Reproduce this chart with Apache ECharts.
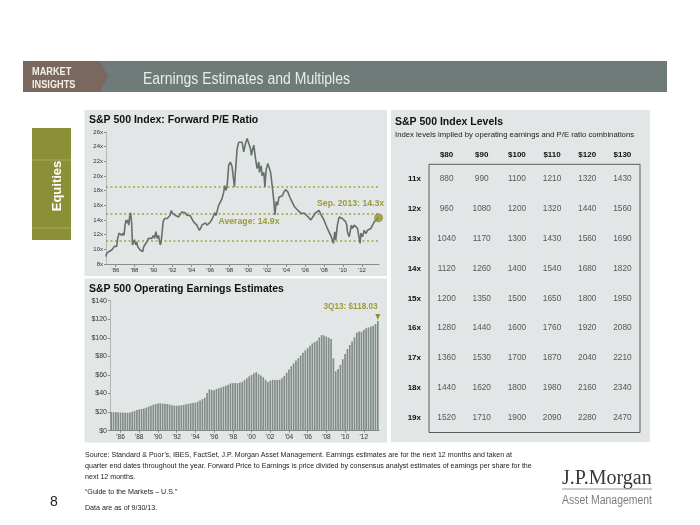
<!DOCTYPE html>
<html><head><meta charset="utf-8">
<script src="https://cdn.jsdelivr.net/npm/echarts@6/dist/echarts.min.js"></script>
<style>html,body{margin:0;padding:0;background:#fff;}#c{width:700px;height:525px;}</style>
</head><body><div id="c"></div>
<script>
// ---- Forward P/E (decimal year, value) ----
const peYears = [1985.00,1985.07,1985.18,1985.32,1985.43,1985.60,1985.78,1985.88,1986.02,1986.13,1986.23,1986.38,1986.52,1986.66,1986.76,1986.90,
1987.01,1987.12,1987.22,1987.29,1987.40,1987.50,1987.60,1987.71,1987.79,1987.89,1988.00,1988.13,1988.24,1988.35,1988.49,1988.60,1988.77,1988.88,1988.98,
1989.13,1989.30,1989.48,1989.66,1989.83,1990.01,1990.12,1990.26,1990.40,1990.54,1990.72,1990.82,1990.92,1991.03,1991.17,1991.32,1991.45,1991.60,1991.77,1991.88,
1992.02,1992.16,1992.30,1992.47,1992.65,1992.82,1993.00,1993.17,1993.36,1993.53,1993.71,1993.88,1993.99,1994.24,1994.40,1994.59,1994.84,1995.00,1995.12,1995.30,
1995.48,1995.65,1995.83,1996.00,1996.18,1996.32,1996.46,1996.60,1996.71,1996.88,1997.06,1997.24,1997.42,1997.52,1997.66,1997.77,1997.86,1997.95,1998.12,1998.30,
1998.44,1998.55,1998.65,1998.83,1999.00,1999.18,1999.36,1999.53,1999.71,1999.89,2000.06,2000.24,2000.34,2000.41,2000.59,2000.77,2000.94,2001.12,2001.19,2001.37,
2001.47,2001.65,2001.76,2001.90,2002.07,2002.25,2002.36,2002.53,2002.71,2002.82,2002.96,2003.10,2003.24,2003.42,2003.59,2003.77,2003.94,2004.05,2004.19,2004.40,
2004.54,2004.75,2004.89,2005.10,2005.25,2005.46,2005.60,2005.81,2005.95,2006.16,2006.41,2006.59,2006.76,2006.94,2007.12,2007.29,2007.47,2007.64,2007.82,2007.99,
2008.17,2008.35,2008.52,2008.70,2008.88,2008.99,2009.13,2009.24,2009.41,2009.59,2009.77,2009.94,2010.12,2010.29,2010.40,2010.47,2010.65,2010.75,2010.89,2011.00,
2011.18,2011.35,2011.53,2011.71,2011.81,2011.88,2012.06,2012.24,2012.41,2012.59,2012.77,2012.94,2013.12,2013.30,2013.47,2013.65,2013.75];
const peValues = [9.0,9.45,9.2,9.7,9.5,9.9,9.7,10.4,10.6,10.4,11.5,12.2,12.4,11.9,12.2,11.9,
13.3,14.0,13.6,14.0,13.3,14.45,15.0,13.5,10.6,10.85,11.3,10.6,11.0,10.35,10.2,9.9,10.1,9.7,10.35,
10.6,11.0,11.5,11.7,11.5,11.9,11.5,12.4,11.5,11.9,10.6,11.0,11.2,13.75,14.2,14.0,14.2,14.1,14.65,15.3,
14.9,14.75,14.65,14.9,14.4,14.65,15.1,14.9,15.0,14.65,14.9,14.6,14.75,13.75,13.6,13.3,12.6,12.9,13.3,13.1,
13.6,13.3,13.5,13.7,14.1,14.5,15.0,14.6,14.85,16.0,16.45,16.9,17.8,18.7,18.05,18.5,20.0,21.5,21.9,21.25,
21.0,18.5,20.5,23.7,24.6,24.4,24.6,23.3,24.4,25.1,24.9,23.7,22.8,23.3,24.2,22.4,21.0,21.9,20.5,21.4,
20.0,20.5,18.5,20.9,21.7,21.5,20.5,18.7,16.5,14.7,16.5,16.0,17.1,16.9,17.3,17.8,18.15,18.05,17.8,17.1,
16.7,16.45,15.8,16.0,15.3,15.3,14.9,14.65,14.9,14.65,14.3,14.0,14.3,14.65,15.0,14.75,15.3,14.85,14.65,14.0,
13.75,12.85,12.6,11.9,11.3,10.8,12.4,11.3,13.3,14.4,14.65,14.2,14.0,13.75,13.3,12.4,11.7,11.9,13.3,12.85,
13.3,13.5,12.85,11.5,10.8,12.2,11.7,12.6,12.15,12.6,12.4,12.85,13.3,13.75,13.95,14.2,14.3];
const peBands = [18.6, 14.9, 11.2];          // +1 std, average, -1 std
const peTickYears = [1986,1988,1990,1992,1994,1996,1998,2000,2002,2004,2006,2008,2010,2012];

// ---- Operating earnings estimates, quarterly from 1Q85 to 3Q13 ----
const epsStartYear = 1985;
const epsValues = [20,20,19.8,19.8, 19.6,19.5,19.3,19.3, 19.5,20.3,21.3,22.2, 23,23.4,23.8,24.8,
26,27,28,28.6, 29.2,29.4,29.2,29, 28.8,28.2,27.5,27, 27,27.2,27.4,27.8, 28.5,29,29.5,29.8,
30.3,31.2,32.5,34, 35.5,40.5,44.5,43.8, 43.5,45,45.8,46.5, 47.6,48.5,49.5,51, 51.2,51.5,51.2,51.8,
52.5,54.5,56.5,58.5, 60,62,63,61, 59.5,57.5,54.8,52.5, 53.7,54.8,54.5,54.5, 55,56.5,59,62.5,
66,69.5,72.5,75.5, 78,81,84,86.5, 89,91.5,94,95.5, 97,100.5,103,102.5, 101.3,100.2,98.8,78,
64,66.5,71,77, 82.5,88,92.3,96, 100.5,105.5,106.7,106.5, 108.5,110.3,111.3,112, 113,115,118.03];

// ---- Index level table ----
const tableEarnings = ['$80','$90','$100','$110','$120','$130'];
const tableMultiples = ['11x','12x','13x','14x','15x','16x','17x','18x','19x'];
const tableLevels = [
 [880,990,1100,1210,1320,1430],
 [960,1080,1200,1320,1440,1560],
 [1040,1170,1300,1430,1560,1690],
 [1120,1260,1400,1540,1680,1820],
 [1200,1350,1500,1650,1800,1950],
 [1280,1440,1600,1760,1920,2080],
 [1360,1530,1700,1870,2040,2210],
 [1440,1620,1800,1980,2160,2340],
 [1520,1710,1900,2090,2280,2470]];

const SANS = "'Liberation Sans', Arial, sans-serif";
const OLIVE = '#9a9c3a';

const quarters = epsValues.map((v,i)=> (epsStartYear + Math.floor(i/4)) + 'Q' + (i%4+1));
const isEvenYearQ1 = (idx) => idx % 8 === 4;
const peData = peYears.map((y,i)=>[y, peValues[i]]);
const lastPe = peData[peData.length-1];
const cells = [];
tableLevels.forEach((row,r)=>row.forEach((v,c)=>cells.push([c,r,v])));

const chart = echarts.init(document.getElementById('c'), null, {renderer:'canvas'});
const T = (text,x,y,font,fill,sx) => ({type:'text', x, y, scaleX: sx||1, style:{text, font, fill, textVerticalAlign:'middle'}});

chart.setOption({
  animation:false,
  backgroundColor:'#ffffff',
  grid:[
    {left:106, top:132, width:273, height:132},
    {left:110, top:300.7, width:269, height:130},
    {left:429, top:164.3, width:211, height:268.2, show:true, borderColor:'#5a5a5a', borderWidth:1, backgroundColor:'transparent'}
  ],
  xAxis:[
    {type:'value', gridIndex:0, min:1985, max:2013.8, splitLine:{show:false},
     axisLine:{show:true, lineStyle:{color:'#8c8c8c', width:1}},
     axisTick:{show:true, customValues:peTickYears, length:3, lineStyle:{color:'#8c8c8c'}},
     axisLabel:{customValues:peTickYears, formatter:v=>"'"+String(v).slice(2), fontSize:6, color:'#333', margin:3, fontFamily:SANS}},
    {type:'category', gridIndex:1, data:quarters, boundaryGap:true,
     axisLine:{show:true, lineStyle:{color:'#8c8c8c'}},
     axisTick:{show:true, interval:isEvenYearQ1, alignWithLabel:true, length:2, lineStyle:{color:'#8c8c8c'}},
     axisLabel:{interval:isEvenYearQ1, formatter:v=>"'"+v.slice(2,4), fontSize:6.5, color:'#333', margin:3, fontFamily:SANS}},
    {type:'category', gridIndex:2, data:tableEarnings, position:'top',
     axisLine:{show:false}, axisTick:{show:false},
     axisLabel:{fontSize:8, fontWeight:'bold', color:'#111', margin:6, fontFamily:SANS}}
  ],
  yAxis:[
    {type:'value', gridIndex:0, min:8, max:26, interval:2, splitLine:{show:false},
     axisLine:{show:true, lineStyle:{color:'#b5b5b5'}},
     axisTick:{show:true, length:2, lineStyle:{color:'#8c8c8c'}},
     axisLabel:{formatter:'{value}x', fontSize:6, color:'#333', margin:3, fontFamily:SANS}},
    {type:'value', gridIndex:1, min:0, max:140, interval:20, splitLine:{show:false},
     axisLine:{show:true, lineStyle:{color:'#b5b5b5'}},
     axisTick:{show:true, length:2, lineStyle:{color:'#8c8c8c'}},
     axisLabel:{formatter:'${value}', fontSize:7, color:'#333', margin:3, fontFamily:SANS}},
    {type:'category', gridIndex:2, data:tableMultiples, inverse:true,
     axisLine:{show:false}, axisTick:{show:false},
     axisLabel:{fontSize:8, fontWeight:'bold', color:'#111', margin:8, fontFamily:SANS}}
  ],
  series:[
    {type:'line', xAxisIndex:0, yAxisIndex:0, data:peData, showSymbol:false, z:3,
     lineStyle:{color:'#66716c', width:1.6},
     markLine:{silent:true, symbol:['none','none'], label:{show:false}, z:2,
       lineStyle:{type:[2,2.5], color:'#a2a43c', width:1.6},
       data:peBands.map(v=>({yAxis:v}))}},
    {type:'scatter', xAxisIndex:0, yAxisIndex:0, data:[lastPe], symbolSize:9, z:4,
     itemStyle:{color:'#8e922f'}},
    {type:'bar', xAxisIndex:1, yAxisIndex:1, data:epsValues, barCategoryGap:'28%',
     itemStyle:{color:'#828c87'},
     markPoint:{symbol:'triangle', symbolRotate:180, symbolSize:[5,6], symbolOffset:[0,-4],
       itemStyle:{color:'#8e922f'}, label:{show:false},
       data:[{coord:[quarters[quarters.length-1], epsValues[epsValues.length-1]]}]}},
    {type:'scatter', xAxisIndex:2, yAxisIndex:2, data:cells, symbolSize:1,
     itemStyle:{color:'transparent'},
     label:{show:true, position:'inside', formatter:p=>String(p.value[2]), fontSize:8.3, color:'#333', fontFamily:SANS}}
  ],
  graphic:{elements:[
    // header
    {type:'rect', z:-10, shape:{x:23,y:61,width:644,height:31}, style:{fill:'#6f7b79'}},
    {type:'polygon', z:-9, shape:{points:[[23,61],[100,61],[108,76.5],[100,92],[23,92]]}, style:{fill:'#7a685e'}},
    T('MARKET',32,72.5,"bold 10px "+SANS,'#f3efe8',0.92),
    T('INSIGHTS',32,85,"bold 10px "+SANS,'#f3efe8',0.92),
    T('Earnings Estimates and Multiples',143,80,"16px "+SANS,'#e8ecea',0.875),
    // side tab
    {type:'rect', z:-10, shape:{x:32,y:128,width:39,height:112}, style:{fill:'#8b9036'}},
    {type:'line', z:-9, shape:{x1:32,y1:160,x2:71,y2:160}, style:{stroke:'#a7ab66', lineWidth:1}},
    {type:'line', z:-9, shape:{x1:32,y1:228,x2:71,y2:228}, style:{stroke:'#a7ab66', lineWidth:1}},
    {type:'text', x:57, y:186, rotation:Math.PI/2, style:{text:'Equities', font:"bold 13px "+SANS, fill:'#ffffff', textAlign:'center', textVerticalAlign:'middle'}},
    // panels
    {type:'rect', z:-10, shape:{x:84.5,y:110,width:302.5,height:166}, style:{fill:'#e3e6e6'}},
    {type:'rect', z:-10, shape:{x:84.5,y:278.5,width:302.5,height:164}, style:{fill:'#e3e6e6'}},
    {type:'rect', z:-10, shape:{x:391,y:110,width:259,height:332}, style:{fill:'#e3e6e6'}},
    // titles
    T('S&P 500 Index: Forward P/E Ratio',89,120.5,"bold 10.5px "+SANS,'#111'),
    T('S&P 500 Operating Earnings Estimates',89,289.5,"bold 10.5px "+SANS,'#111'),
    T('S&P 500 Index Levels',395,122,"bold 10.5px "+SANS,'#111'),
    T('Index levels implied by operating earnings and P/E ratio combinations',395,134.5,"7.75px "+SANS,'#222'),
    // annotations
    T('Sep. 2013: 14.3x',317,204,"bold 8.7px "+SANS,OLIVE),
    T('Average: 14.9x',218.5,222,"bold 8.7px "+SANS,OLIVE),
    T('3Q13: $118.03',323.5,306.5,"bold 8.2px "+SANS,OLIVE),
    // footer
    T('Source: Standard & Poor\u2019s, IBES, FactSet, J.P. Morgan Asset Management. Earnings estimates are for the next 12 months and taken at',85,455,"7.1px "+SANS,'#222'),
    T('quarter end dates throughout the year. Forward Price to Earnings is price divided by consensus analyst estimates of earnings per share for the',85,466,"7.1px "+SANS,'#222'),
    T('next 12 months.',85,476.6,"7.1px "+SANS,'#222'),
    T('\u201cGuide to the Markets \u2013 U.S.\u201d',85,492.5,"7.1px "+SANS,'#222'),
    T('Data are as of 9/30/13.',85,508,"7.1px "+SANS,'#222'),
    T('8',50,502,"14px "+SANS,'#222'),
    T('J.P.Morgan',562,479,"20px 'Liberation Serif', serif",'#3a3a3a'),
    {type:'line', shape:{x1:562,y1:489,x2:652,y2:489}, style:{stroke:'#9a9a9a', lineWidth:1}},
    T('Asset Management',562,500.5,"12px "+SANS,'#7d7d7d',0.87)
  ]}
});
</script></body></html>
